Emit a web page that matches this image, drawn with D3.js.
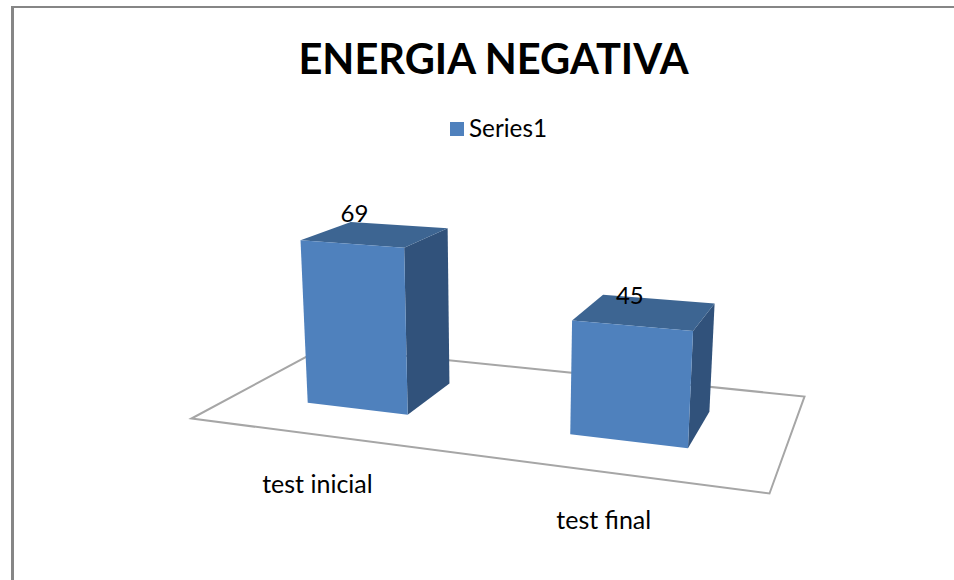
<!DOCTYPE html>
<html>
<head>
<meta charset="utf-8">
<script src="https://cdn.jsdelivr.net/npm/d3@7"></script>
<style>
    html, body { margin: 0; padding: 0; background: #fff; overflow: hidden; }
    text { font-family: Lato, "Open Sans", sans-serif; fill: #000; }
</style>
</head>
<body>
<script>
// Data
const titleText = "ENERGIA NEGATIVA";
const seriesName = "Series1";
const categories = ["test inicial", "test final"];
const values = [69, 45];

const width = 954, height = 580;

// Floor of the 3D chart on screen: front left, front right, back right, back left
const floorCorners = [[191.5, 418.5], [769.5, 493.5], [804.5, 396.5], [323.5, 347.5]];

// Hand tuned nudges for the labels, they don't follow the perspective exactly
const valueNudge = [[-21.5, -12.5], [-15.5, -7.5]];
const categoryNudge = [[-0.5, 58.5], [-1.5, 56.5]];

// u runs along the floor (categories), v runs into the depth
const u = d3.scaleBand().domain(categories).range([0, 1]).paddingInner(0.6).paddingOuter(0.3);
const v = d3.scaleBand().domain([seriesName]).range([0.3, 0.7]);

// Pixels per unit of value get larger the lower a point sits on the screen
const pxPerUnit = d3.scaleLinear().domain([400, 500]).range([2.34, 2.89]);
// Verticals lean away from x = 500 because the camera looks down on the chart
const lean = d3.scaleLinear().domain([500, 700]).range([0, 0.046]);

const floor = makeFloorProjection(floorCorners);

// Projective map from the unit square to the floor quad
function makeFloorProjection(q) {
    const [[x0, y0], [x1, y1], [x2, y2], [x3, y3]] = q;
    const sx = x0 - x1 + x2 - x3, sy = y0 - y1 + y2 - y3;
    const dx1 = x1 - x2, dx2 = x3 - x2, dy1 = y1 - y2, dy2 = y3 - y2;
    const den = dx1 * dy2 - dx2 * dy1;
    const g = (sx * dy2 - dx2 * sy) / den;
    const h = (dx1 * sy - sx * dy1) / den;
    const a = x1 - x0 + g * x1, b = x3 - x0 + h * x3;
    const d = y1 - y0 + g * y1, e = y3 - y0 + h * y3;
    return (s, t) => {
        const w = g * s + h * t + 1;
        return [(a * s + b * t + x0) / w, (d * s + e * t + y0) / w];
    };
}

// Lift a floor point straight up by a value
function lift(p, value) {
    const rise = pxPerUnit(p[1]) * value;
    return [p[0] + lean(p[0]) * rise, p[1] - rise];
}

const svg = d3.select("body").append("svg")
    .attr("width", width)
    .attr("height", height)
    .style("display", "block");

// Frame of the picture, only the top and left sides are in view
svg.append("rect")
    .attr("x", 11)
    .attr("y", 6)
    .attr("width", 3)
    .attr("height", height - 6)
    .attr("fill", "#868686");

svg.append("rect")
    .attr("x", 11)
    .attr("y", 6)
    .attr("width", width - 11)
    .attr("height", 2)
    .attr("fill", "#868686");

svg.append("text")
    .attr("x", 493.5)
    .attr("y", 74)
    .attr("text-anchor", "middle")
    .attr("font-size", 41.6)
    .attr("font-weight", 700)
    .text(titleText);

// Legend
svg.append("rect")
    .attr("x", 450)
    .attr("y", 122)
    .attr("width", 14)
    .attr("height", 14)
    .attr("fill", "#4f81bd");

svg.append("text")
    .attr("x", 469)
    .attr("y", 137)
    .attr("font-size", 24.3)
    .text(seriesName);

// Floor
svg.append("path")
    .attr("d", d3.line().curve(d3.curveLinearClosed)(floorCorners))
    .attr("fill", "#fff")
    .attr("stroke", "#a6a6a6")
    .attr("stroke-width", 2);

// Bars, three visible faces each
const polygon = d3.line().curve(d3.curveLinearClosed);
const depth = v(seriesName), bw = u.bandwidth(), dw = v.bandwidth();

const bars = svg.append("g").selectAll("g")
    .data(categories.map((c, i) => ({ category: c, value: values[i] })))
    .join("g");

function corners(d) {
    const s = u(d.category);
    const fl = floor(s, depth), fr = floor(s + bw, depth);
    const br = floor(s + bw, depth + dw), bl = floor(s, depth + dw);
    return {
        fl, fr, br,
        tfl: lift(fl, d.value), tfr: lift(fr, d.value),
        tbr: lift(br, d.value), tbl: lift(bl, d.value)
    };
}

bars.append("path")
    .attr("fill", "#31527b")
    .attr("d", d => { const c = corners(d); return polygon([c.fr, c.br, c.tbr, c.tfr]); });

bars.append("path")
    .attr("fill", "#3d6592")
    .attr("d", d => { const c = corners(d); return polygon([c.tfl, c.tfr, c.tbr, c.tbl]); });

bars.append("path")
    .attr("fill", "#4f81bd")
    .attr("d", d => { const c = corners(d); return polygon([c.fl, c.fr, c.tfr, c.tfl]); });

// Value labels, placed from the middle of the top face
bars.append("text")
    .attr("text-anchor", "middle")
    .attr("font-size", 24)
    .attr("transform", (d, i) => {
        const s = u(d.category) + bw / 2;
        const p = lift(floor(s, depth + dw / 2), d.value);
        return `translate(${p[0] + valueNudge[i][0]},${p[1] + valueNudge[i][1]})`;
    })
    .text(d => d.value);

// Category labels below the front edge of the floor
bars.append("text")
    .attr("text-anchor", "middle")
    .attr("font-size", 25)
    .attr("transform", (d, i) => {
        const p = floor(u(d.category) + bw / 2, 0);
        return `translate(${p[0] + categoryNudge[i][0]},${p[1] + categoryNudge[i][1]})`;
    })
    .text(d => d.category);
</script>
</body>
</html>
